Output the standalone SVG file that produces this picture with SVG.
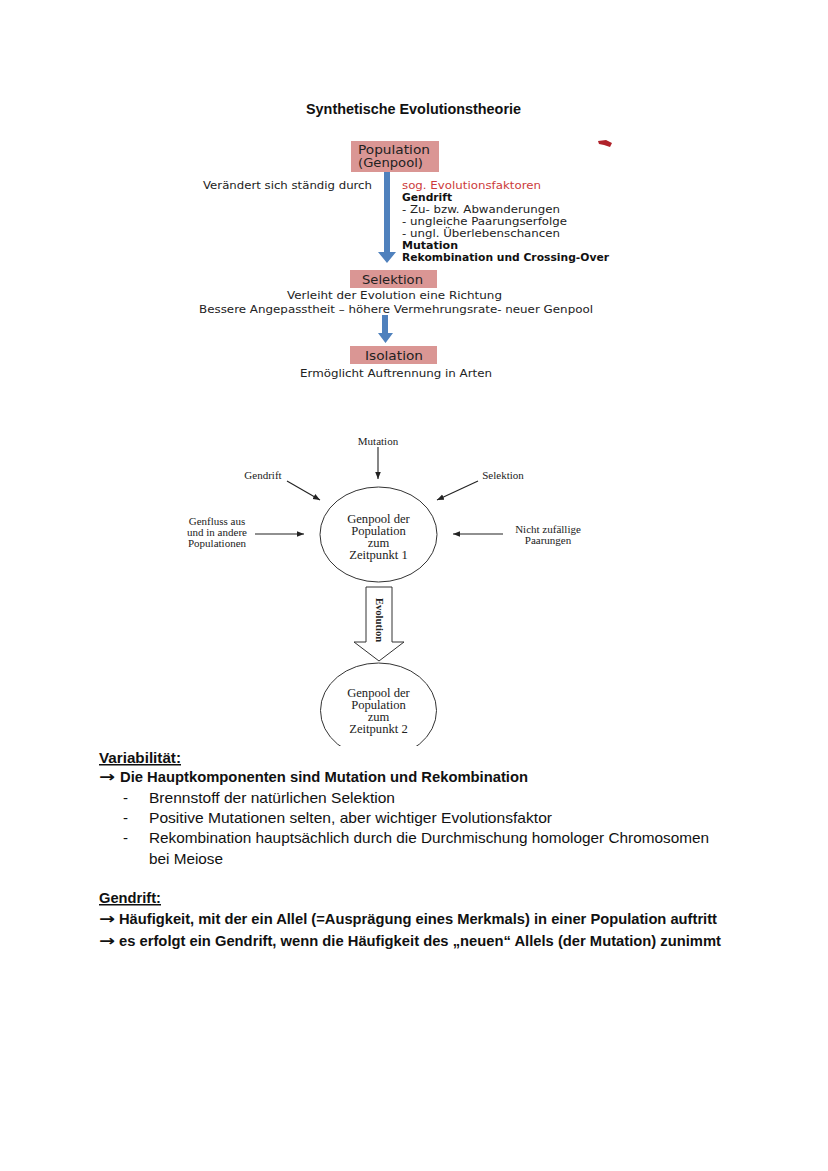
<svg xmlns="http://www.w3.org/2000/svg" width="828" height="1171" viewBox="0 0 828 1171">
<style>
.bg{fill:#ffffff}
.title{font-family:"Liberation Sans",Arial,sans-serif;font-weight:bold;font-size:15px;fill:#111}
.box{fill:#da9694}
.boxlbl{font-family:"DejaVu Sans",Verdana,sans-serif;font-size:11.6px;fill:#222}
.t1{font-family:"DejaVu Sans",Verdana,sans-serif;font-size:10px;fill:#222}
.t1b{font-family:"DejaVu Sans",Verdana,sans-serif;font-size:10px;fill:#111;font-weight:bold}
.red{fill:#cc3b3b}
.blue{fill:#4f81bd}
.ser{font-family:"Liberation Serif","Times New Roman",serif;font-size:11px;fill:#222;text-anchor:middle}
.serL{font-family:"Liberation Serif","Times New Roman",serif;font-size:12.6px;fill:#222;text-anchor:middle}
.conn{stroke:#222;stroke-width:1.1;fill:none;marker-end:url(#ah)}
.ell{fill:#fff;stroke:#333;stroke-width:1}
.body{font-family:"Liberation Sans",Arial,sans-serif;font-size:15px;fill:#111}
.arr{font-family:"DejaVu Sans",sans-serif;font-size:15px;font-weight:bold;fill:#111}
.bold{font-weight:bold}
.ul{text-decoration:underline}
</style>
<defs>
<marker id="ah" viewBox="0 0 10 10" refX="10" refY="5" markerWidth="7" markerHeight="7" orient="auto" markerUnits="userSpaceOnUse">
<path d="M0,1 L10,5 L0,9 z" fill="#222"/>
</marker>
<clipPath id="clip2"><rect x="300" y="655" width="160" height="91"/></clipPath>
</defs>
<rect class="bg" x="0" y="0" width="828" height="1171"/>

<text class="title" x="306" y="114" textLength="215" lengthAdjust="spacingAndGlyphs">Synthetische Evolutionstheorie</text>

<!-- red speck -->
<path d="M598,141 L606,140 L612,143 L610,147 L604,145 L599,144 z" fill="#b0222a"/>

<g id="connectors-top">
<path class="blue" d="M384,172 L390,172 L390,252 L396,252 L387,263 L378,252 L384,252 z"/>
<path class="blue" d="M382,315 L388,315 L388,333 L393,333 L385.5,343 L378,333 L382,333 z"/>
</g>

<g id="node-population">
<rect class="box" x="351" y="141" width="88" height="31"/>
<text class="boxlbl" x="358" y="154" textLength="72" lengthAdjust="spacingAndGlyphs">Population</text>
<text class="boxlbl" x="358" y="167" textLength="65" lengthAdjust="spacingAndGlyphs">(Genpool)</text>
</g>

<g id="label-factors">
<text class="t1" x="203" y="189" textLength="169" lengthAdjust="spacingAndGlyphs">Verändert sich ständig durch</text>
<text class="t1 red" x="402" y="189" textLength="139" lengthAdjust="spacingAndGlyphs">sog. Evolutionsfaktoren</text>
<text class="t1b" x="402" y="201" textLength="50" lengthAdjust="spacingAndGlyphs">Gendrift</text>
<text class="t1" x="402" y="213" textLength="158" lengthAdjust="spacingAndGlyphs">- Zu- bzw. Abwanderungen</text>
<text class="t1" x="402" y="225" textLength="165" lengthAdjust="spacingAndGlyphs">- ungleiche Paarungserfolge</text>
<text class="t1" x="402" y="237" textLength="158" lengthAdjust="spacingAndGlyphs">- ungl. Überlebenschancen</text>
<text class="t1b" x="402" y="249" textLength="56" lengthAdjust="spacingAndGlyphs">Mutation</text>
<text class="t1b" x="402" y="261" textLength="207" lengthAdjust="spacingAndGlyphs">Rekombination und Crossing-Over</text>
</g>

<g id="node-selektion">
<rect class="box" x="350" y="270" width="87" height="18"/>
<text class="boxlbl" x="362" y="284" textLength="61" lengthAdjust="spacingAndGlyphs">Selektion</text>
<text class="t1" x="287" y="299" textLength="215" lengthAdjust="spacingAndGlyphs">Verleiht der Evolution eine Richtung</text>
<text class="t1" x="199" y="313" textLength="394" lengthAdjust="spacingAndGlyphs">Bessere Angepasstheit – höhere Vermehrungsrate- neuer Genpool</text>
</g>

<g id="node-isolation">
<rect class="box" x="350" y="346" width="87" height="18"/>
<text class="boxlbl" x="365" y="360" textLength="58" lengthAdjust="spacingAndGlyphs">Isolation</text>
<text class="t1" x="300" y="377" textLength="192" lengthAdjust="spacingAndGlyphs">Ermöglicht Auftrennung in Arten</text>
</g>

<!-- lower diagram -->
<g id="connectors">
<line class="conn" x1="378" y1="447" x2="378" y2="479"/>
<line class="conn" x1="287" y1="481" x2="320" y2="500"/>
<line class="conn" x1="478" y1="481" x2="437" y2="500"/>
<line class="conn" x1="255" y1="534" x2="304" y2="534"/>
<line class="conn" x1="503" y1="534" x2="453" y2="534"/>
<path d="M366,587 L392,587 L392,642 L404,642 L379,661 L354,642 L366,642 z" fill="#fff" stroke="#333" stroke-width="1"/>
<text x="379" y="620" transform="rotate(90 379 620)" text-anchor="middle" dominant-baseline="central" font-family="Liberation Serif,Times New Roman,serif" font-weight="bold" font-size="10.6" fill="#222">Evolution</text>
</g>

<g id="label-mutation"><text class="ser" x="378" y="445">Mutation</text></g>
<g id="label-gendrift"><text class="ser" x="263" y="479">Gendrift</text></g>
<g id="label-selektion"><text class="ser" x="503" y="479">Selektion</text></g>
<g id="label-genfluss">
<text class="ser" x="217" y="525">Genfluss aus</text>
<text class="ser" x="217" y="536">und in andere</text>
<text class="ser" x="217" y="547">Populationen</text>
</g>
<g id="label-paarungen">
<text class="ser" x="548" y="533">Nicht zufällige</text>
<text class="ser" x="548" y="544">Paarungen</text>
</g>

<g id="node-genpool1">
<ellipse class="ell" cx="378.5" cy="534.5" rx="58.5" ry="47.5"/>
<text class="serL" x="378.5" y="523">Genpool der</text>
<text class="serL" x="378.5" y="535">Population</text>
<text class="serL" x="378.5" y="547">zum</text>
<text class="serL" x="378.5" y="559">Zeitpunkt 1</text>
</g>

<g id="node-genpool2">
<ellipse class="ell" cx="378.5" cy="710.5" rx="58" ry="47.5" clip-path="url(#clip2)"/>
<text class="serL" x="378.5" y="697">Genpool der</text>
<text class="serL" x="378.5" y="709">Population</text>
<text class="serL" x="378.5" y="721">zum</text>
<text class="serL" x="378.5" y="733">Zeitpunkt 2</text>
</g>

<!-- text section -->
<g id="section-variabilitaet">
<text class="body bold ul" x="99" y="763" textLength="82" lengthAdjust="spacingAndGlyphs">Variabilität:</text>
<text class="arr" x="99" y="782" textLength="16" lengthAdjust="spacingAndGlyphs">→</text>
<text class="body bold" x="120" y="782" textLength="408" lengthAdjust="spacingAndGlyphs">Die Hauptkomponenten sind Mutation und Rekombination</text>
<text class="body" x="123" y="803">-</text>
<text class="body" x="149" y="803" textLength="246" lengthAdjust="spacingAndGlyphs">Brennstoff der natürlichen Selektion</text>
<text class="body" x="123" y="823">-</text>
<text class="body" x="149" y="823" textLength="403" lengthAdjust="spacingAndGlyphs">Positive Mutationen selten, aber wichtiger Evolutionsfaktor</text>
<text class="body" x="123" y="843">-</text>
<text class="body" x="149" y="843" textLength="560" lengthAdjust="spacingAndGlyphs">Rekombination hauptsächlich durch die Durchmischung homologer Chromosomen</text>
<text class="body" x="149" y="864" textLength="74" lengthAdjust="spacingAndGlyphs">bei Meiose</text>
</g>

<g id="section-gendrift">
<text class="body bold ul" x="99" y="903" textLength="62" lengthAdjust="spacingAndGlyphs">Gendrift:</text>
<text class="arr" x="99" y="924" textLength="16" lengthAdjust="spacingAndGlyphs">→</text>
<text class="body bold" x="119" y="924" textLength="598" lengthAdjust="spacingAndGlyphs">Häufigkeit, mit der ein Allel (=Ausprägung eines Merkmals) in einer Population auftritt</text>
<text class="arr" x="99" y="946" textLength="16" lengthAdjust="spacingAndGlyphs">→</text>
<text class="body bold" x="119" y="946" textLength="602" lengthAdjust="spacingAndGlyphs">es erfolgt ein Gendrift, wenn die Häufigkeit des „neuen“ Allels (der Mutation) zunimmt</text>
</g>
</svg>
